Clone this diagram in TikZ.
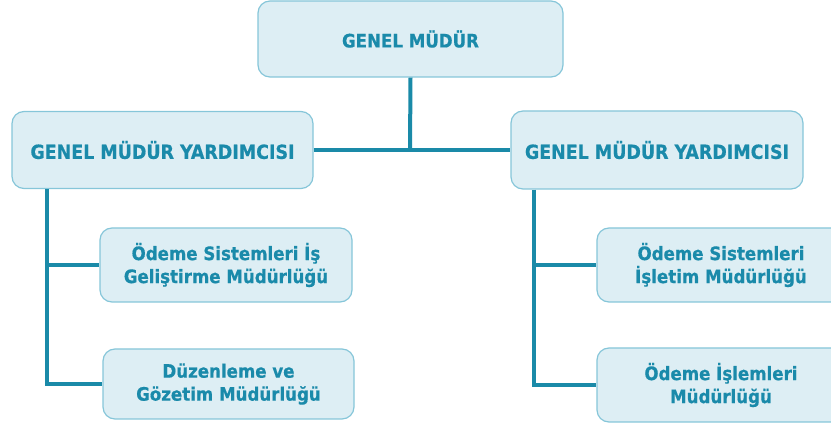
\documentclass[tikz,border=0pt]{standalone}
\usepackage{fontspec}
\setmainfont{DejaVu Sans Condensed}[BoldFeatures={FakeBold=0.6}]
\definecolor{boxfill}{HTML}{DDEEF4}
\definecolor{boxline}{HTML}{86C6D9}
\definecolor{txt}{HTML}{1A8AAA}
\definecolor{conn}{HTML}{1A8AA8}
\begin{document}
\begin{tikzpicture}[x=1pt,y=-1pt,
  box/.style={draw=boxline, fill=boxfill, line width=1.2pt, rounded corners=12pt,
    text=txt, font=\fontsize{18.5}{23}\selectfont\bfseries, align=center, inner sep=0pt},
  big/.style={font=\fontsize{19.4}{23}\selectfont\bfseries},
  conn/.style={draw=conn, line width=4pt}]
\useasboundingbox (0,0) rectangle (831,430);
\node[box, minimum width=305pt, minimum height=76pt] (gm) at (410.5,39) {GENEL MÜDÜR};
\node[box, big, minimum width=301pt, minimum height=77pt] (gmyl) at (162.5,150) {GENEL MÜDÜR YARDIMCISI};
\node[box, big, minimum width=292pt, minimum height=78pt] (gmyr) at (657,150) {GENEL MÜDÜR YARDIMCISI};
\node[box, minimum width=252pt, minimum height=74pt] (lc1) at (226,265) {Ödeme Sistemleri İş\\Geliştirme Müdürlüğü};
\node[box, minimum width=251pt, minimum height=70pt] (lc2) at (228.5,384) {Düzenleme ve\\Gözetim Müdürlüğü};
\node[box, minimum width=248pt, minimum height=74pt] (rc1) at (721,265) {Ödeme Sistemleri\\İşletim Müdürlüğü};
\node[box, minimum width=248pt, minimum height=74pt] (rc2) at (721,385) {Ödeme İşlemleri\\Müdürlüğü};
\coordinate (j) at (410,150);
\coordinate (lv) at (47,0);
\coordinate (rv) at (534,0);
\draw[conn] (gm.south) -- (j);
\draw[conn] (gmyl.east) -- (gmyr.west);
\draw[conn] (gmyl.south -| lv) -- (lv |- lc2.west) -- (lc2.west);
\draw[conn] (lv |- lc1.west) -- (lc1.west);
\draw[conn] (gmyr.south -| rv) -- (rv |- rc2.west) -- (rc2.west);
\draw[conn] (rv |- rc1.west) -- (rc1.west);
\end{tikzpicture}
\end{document}
